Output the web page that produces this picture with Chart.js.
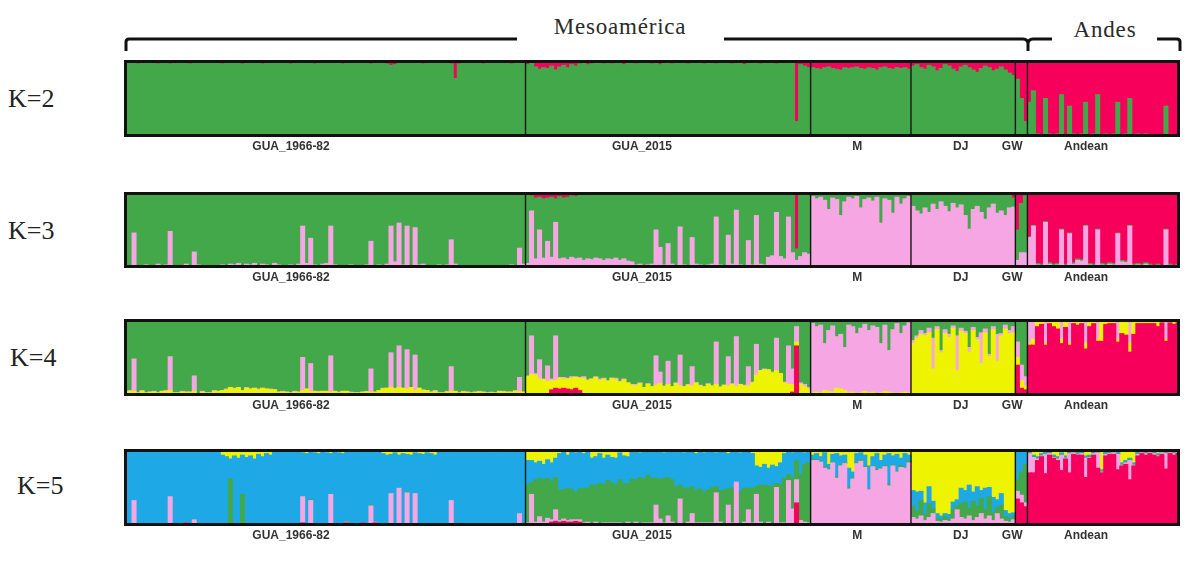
<!DOCTYPE html>
<html><head><meta charset="utf-8">
<script src="https://cdn.jsdelivr.net/npm/chart.js@4/dist/chart.umd.min.js"></script>
<style>
html,body{margin:0;padding:0;background:#fff}
body{width:1202px;height:567px;position:relative;overflow:hidden}
.panel{position:absolute;left:121px;width:1062px}
.k{position:absolute;font-family:'Liberation Serif',serif;font-size:26px;line-height:30px;color:#222}
.grp{position:absolute;font-family:'Liberation Serif',serif;font-size:23px;line-height:23px;color:#2a2a2a;letter-spacing:0.8px;text-align:center;white-space:nowrap}
svg{position:absolute;left:0;top:0}
</style></head><body>
<svg width="1202" height="70">
<g fill="none" stroke="#111" stroke-width="3">
<path d="M126,51 L126,42 Q126,39 129,39 L517,39"/>
<path d="M724,39 L1023,39 Q1028,39 1028,44 L1028,51 M1028,44 Q1028,39 1033,39 L1052,39"/>
<path d="M1157,39 L1177,39 Q1180,39 1180,42 L1180,51"/>
</g></svg>
<div class="grp" style="left:520px;width:200px;top:15px">Mesoamérica</div>
<div class="grp" style="left:1055px;width:100px;top:18px">Andes</div>
<div class="k" style="left:8px;top:84px">K=2</div>
<div class="k" style="left:8px;top:216px">K=3</div>
<div class="k" style="left:10px;top:343px">K=4</div>
<div class="k" style="left:17px;top:471px">K=5</div>
<div class="panel" style="top:57px;height:102px"><canvas id="c2"></canvas></div>
<div class="panel" style="top:189px;height:101px"><canvas id="c3"></canvas></div>
<div class="panel" style="top:316px;height:102px"><canvas id="c4"></canvas></div>
<div class="panel" style="top:446px;height:102px"><canvas id="c5"></canvas></div>
<script>
// ---- populations (individual counts) ----
const popNames = ['GUA_1966-82','GUA_2015','M','DJ','GW','Andean'];
const popSizes = [100,71,25,26,3,38];

// ---- K=2 : red (Andean cluster); green = rest ----
const k2Red = [
4,3,4,5,4,3,4,4,5,4, 4,5,4,3,4,4,5,4,3,4, 4,3,4,4,5,4,4,3,4,5, 4,4,3,4,5,4,4,4,3,4, 4,5,4,4,3,4,4,5,4,4,
3,4,4,4,5,4,3,4,4,4, 4,5,4,4,3,5,7,6,4,4, 4,4,3,4,5,4,4,4,3,4, 4,5,24,5,4,4,3,4,4,5, 4,4,3,4,4,4,5,4,3,4,
6,4,9,12,10,11,8,13,9,7, 10,6,8,5,4,6,5,4,3,5, 4,5,3,4,6,4,3,5,4,3, 4,5,4,6,3,4,5,4,3,4, 5,3,4,4,5,3,4,5,3,4, 4,5,3,4,6,4,3,4,5,3, 4,3,5,4,3,4,3,80,6,8, 10,
10,11,12,10,9,11,12,13,10,11,10,9,11,12,10,11,13,10,9,11,12,10,11,10,12,
8,6,10,12,7,9,14,11,6,8,12,15,9,7,10,13,16,11,8,10,14,12,9,13,17,20,
25,50,80,
55,40,96,97,50,96,97,96,45,97, 60,96,97,96,55,97,96,45,97,96, 97,96,55,97,96,50,97,96,97,96, 98,97,98,99,60,98,99,98
];

// ---- K=3 : pink (bottom), red (top); green = rest ----
const k3Pink = [
3,2,46,3,2,4,2,3,5,3, 4,48,3,2,3,5,3,21,4,2, 3,2,3,2,4,3,5,4,6,3, 5,4,6,3,5,4,3,6,4,3, 3,4,3,5,55,6,39,4,3,5,
6,55,4,3,2,3,4,2,3,3, 4,35,3,4,3,5,55,8,59,4, 55,3,53,4,5,3,2,3,4,3, 4,37,5,3,2,3,2,3,2,3, 2,3,2,3,2,3,4,3,26,5,
6,75,12,50,13,35,14,60,12,13, 11,14,12,13,10,12,11,13,12,10, 12,11,13,10,12,9,8,4,5,3, 4,5,50,27,4,32,5,3,54,4, 3,40,5,4,3,4,5,67,4,3, 43,5,76,4,3,36,4,69,5,4, 14,16,73,15,12,67,20,10,15,20, 18,
94,91,93,89,77,92,90,69,87,93,91,94,79,90,92,88,93,59,91,89,72,93,84,91,94,
81,75,71,79,73,84,77,87,81,74,85,79,83,69,51,77,81,73,64,79,84,72,75,69,79,80,
10,20,20,
40,55,4,3,60,5,3,4,50,3, 45,5,10,9,55,4,3,50,4,3, 5,4,45,8,7,55,3,4,3,5, 3,2,3,2,50,3,2,3
];
const k3Red = [
1,0,1,1,0,1,1,0,1,1, 1,1,0,1,1,0,1,1,1,0, 1,1,0,1,1,1,4,3,1,1, 0,1,1,1,0,1,1,1,0,1, 1,1,0,1,1,4,1,1,0,1,
1,0,1,1,1,0,1,1,1,0, 1,1,1,0,1,1,2,3,3,1, 1,0,1,1,1,0,1,1,1,1, 0,1,3,1,1,0,1,1,1,0, 1,1,1,0,1,1,1,0,1,1,
3,5,8,7,9,8,7,9,6,8, 7,5,6,3,4,2,3,2,3,2, 2,3,2,3,2,2,3,2,2,3, 2,3,2,2,3,2,2,3,2,2, 3,2,2,3,2,2,3,2,2,3, 2,3,2,2,3,2,2,3,2,2, 3,2,2,3,2,2,3,75,3,2, 2,
1,1,1,1,1,1,1,1,1,1,1,1,1,1,1,1,1,1,1,1,1,1,1,1,1,
1,1,1,1,1,1,1,1,1,1,1,1,1,1,1,1,1,1,1,1,1,1,1,1,3,8,
50,15,5,
59,44,94,95,39,93,95,94,49,95, 54,93,88,89,44,94,95,49,94,95, 93,94,54,90,91,44,95,94,95,93, 95,97,95,97,49,95,97,95
];

// ---- K=4 : red (bottom), yellow, pink; green = rest (top) ----
const k4Red = [
2,1,2,2,3,2,1,2,2,3, 2,2,1,2,2,3,2,2,1,2, 2,1,2,3,2,2,3,2,2,1, 2,2,1,2,2,2,3,2,1,2, 2,2,1,2,2,3,2,1,2,2,
1,2,2,2,3,2,2,1,2,2, 2,1,2,2,3,2,2,2,1,2, 2,2,1,2,2,3,2,2,1,2, 2,2,3,2,1,2,2,2,1,2, 2,1,2,2,2,3,2,2,1,2,
3,2,3,2,3,3,8,10,9,10, 9,8,10,7,3,2,3,2,3,2, 3,2,3,3,2,3,2,3,3,2, 3,2,3,2,3,3,2,3,2,3, 2,3,3,2,3,2,3,3,2,3, 3,2,3,3,2,3,2,3,3,2, 3,2,3,3,2,3,5,65,3,2, 3,
1,1,1,1,1,1,1,1,1,1,1,1,1,1,1,1,1,1,1,1,1,1,1,1,1,
2,2,2,2,2,2,2,2,2,2,2,2,2,2,2,2,2,2,2,2,2,2,2,2,2,2,
40,10,8,
66,66,90,93,66,94,90,87,68,89, 66,94,92,94,61,90,94,71,71,93, 94,94,70,81,79,57,80,94,94,94, 94,94,90,95,71,95,93,95
];
const k4Yellow = [
3,5,4,2,3,2,4,3,2,3, 4,5,3,2,3,2,3,4,2,3, 2,3,4,3,5,6,8,7,9,6, 8,7,9,6,8,7,5,6,4,3, 3,2,4,3,5,6,4,5,3,4,
5,3,4,2,3,4,2,3,2,3, 3,4,3,5,6,8,9,7,10,8, 7,9,6,8,5,4,3,4,3,2, 3,4,3,2,4,3,2,3,4,3, 2,3,2,4,3,2,3,4,5,3,
22,26,24,20,18,16,12,10,14,12, 13,15,14,16,20,18,19,22,17,20, 16,21,18,15,19,14,12,10,13,9, 12,10,11,14,9,12,10,13,11,9, 12,10,14,11,9,13,10,12,9,11, 10,13,9,12,11,10,15,24,30,32, 31,28,30,26,15,12,10,5,12,10, 6,
3,4,3,6,5,4,9,8,6,3,4,2,3,5,3,4,2,3,5,4,3,2,3,4,3,
66,73,78,76,80,33,84,54,79,74,86,31,82,79,55,83,71,40,80,49,84,43,76,85,79,80,
10,10,5,
3,8,6,4,3,2,7,9,6,8, 3,2,3,2,8,7,2,3,25,4, 2,3,4,15,18,12,16,3,2,3, 2,3,6,2,3,2,3,2
];
const k4Pink = [
0,1,42,0,1,0,0,1,0,0, 1,44,0,0,1,0,0,20,0,1, 0,0,1,0,0,1,0,1,0,0, 1,0,0,1,0,0,1,0,0,1, 0,0,1,0,43,0,36,0,1,0,
0,47,0,1,0,0,1,0,0,0, 1,30,0,0,1,0,45,1,54,0, 51,0,46,0,1,0,0,1,0,0, 1,32,0,0,1,0,0,0,1,0, 0,1,0,0,1,0,0,1,18,0,
1,50,2,25,1,20,2,58,1,2, 1,2,1,1,2,1,0,1,2,1, 1,0,2,1,1,0,1,2,1,0, 1,0,38,15,1,30,0,1,40,0, 1,25,0,1,0,1,0,55,1,0, 38,1,65,0,1,25,1,40,0,1, 0,1,42,0,1,50,20,20,2,3, 2,
90,85,88,61,79,86,67,71,56,88,85,78,84,87,81,86,86,64,86,54,82,91,77,86,91,
4,3,5,3,6,40,4,3,5,4,3,45,4,3,6,4,3,40,5,3,4,35,3,5,4,8,
20,20,12,
30,25,2,1,30,2,1,2,25,1, 30,2,3,2,30,1,2,25,2,1, 2,1,25,2,1,30,2,1,2,1, 2,1,2,1,25,1,2,1
];

// ---- K=5 : red (bottom), pink, green, yellow (top); blue = rest ----
const k5Red = [
1,0,1,0,1,1,0,1,0,1, 0,1,1,0,1,4,1,0,1,0, 1,0,1,1,0,1,0,1,1,0, 1,1,0,1,1,0,1,0,1,1, 0,1,1,0,4,1,1,0,1,0,
1,0,1,1,0,4,1,0,1,4, 1,0,4,1,0,1,1,0,1,1, 0,1,1,0,1,1,0,1,1,0, 1,1,0,1,1,0,1,1,0,1, 1,0,1,1,0,1,1,0,2,1,
1,1,2,2,2,2,5,6,5,6, 5,5,6,5,2,2,1,2,1,2, 1,2,1,2,1,2,1,2,1,1, 2,1,2,1,2,1,2,1,2,1, 2,1,2,1,2,1,2,1,2,1, 2,1,2,1,2,1,2,1,2,1, 2,1,2,1,2,1,2,30,2,1, 1,
1,1,1,1,1,1,1,1,1,1,1,1,1,1,1,1,1,1,1,1,1,1,1,1,1,
1,1,1,1,1,1,1,1,1,1,1,1,1,1,1,1,1,1,1,1,1,1,1,1,1,2,
35,30,25,
69,69,85,90,68,92,88,85,72,87, 69,93,92,92,63,88,92,75,69,91, 93,93,73,78,80,60,78,91,94,92, 94,92,90,93,74,94,92,94
];
const k5Pink = [
1,0,32,1,0,1,0,0,1,0, 0,37,1,0,1,0,0,8,0,1, 0,1,0,0,1,0,1,0,0,1, 0,1,0,1,0,0,1,0,1,0, 1,0,0,1,34,0,32,1,0,1,
0,41,0,1,0,1,0,0,1,0, 0,26,1,0,0,1,41,1,48,0, 43,0,41,0,1,0,0,1,0,0, 1,32,0,0,1,0,1,0,0,1, 0,1,0,0,1,0,1,0,14,1,
3,40,3,10,3,8,3,15,2,3, 2,3,2,3,2,3,2,3,2,2, 3,2,3,2,2,3,2,3,2,3, 2,3,25,8,2,12,3,2,33,2, 3,15,2,3,2,3,2,42,3,2, 25,3,55,2,3,20,2,40,3,2, 3,2,48,3,2,58,20,30,5,4, 3,
84,84,82,74,72,81,61,77,80,47,60,80,83,75,46,76,71,73,76,51,77,69,75,74,81,
10,8,12,6,10,15,5,4,6,5,8,20,10,8,12,6,10,15,8,12,6,15,8,5,4,6,
10,10,5,
25,20,2,1,25,2,1,2,20,1, 25,2,1,2,25,1,2,20,1,2, 1,2,20,1,2,25,1,2,1,2, 1,2,1,2,20,1,2,1
];
const k5Green = [
0,1,0,0,1,0,0,1,0,0, 1,0,0,1,0,0,1,0,0,1, 0,0,1,0,0,1,60,0,1,40, 0,1,0,0,1,0,0,1,0,0, 1,0,0,1,0,0,1,0,0,1,
0,0,1,0,0,1,0,0,1,0, 0,1,0,0,1,0,0,1,0,0, 1,0,0,1,0,0,1,0,0,1, 0,0,3,0,1,0,0,1,0,0, 1,0,0,1,0,0,1,0,0,1,
50,15,55,50,55,52,50,42,40,38, 42,40,36,40,45,44,50,48,52,50, 55,52,50,56,52,50,58,55,60,57, 62,58,35,52,58,50,55,48,18,46, 44,35,42,44,40,43,46,8,41,44, 22,45,0,42,44,28,45,10,48,50, 47,49,5,50,58,8,40,25,60,75, 78,
2,1,1,2,1,1,2,1,1,2,1,1,2,1,1,1,2,1,1,2,1,1,2,1,2,
15,10,20,8,18,6,4,3,5,3,12,5,18,22,10,25,15,20,12,25,10,8,18,6,5,4,
15,30,50,
1,1,1,1,1,1,1,1,1,1, 1,1,1,1,1,1,1,1,1,1, 1,1,1,1,1,1,1,1,1,1, 1,1,1,1,1,1,1,1
];
const k5Yellow = [
3,2,4,3,2,1,3,2,4,2, 3,2,1,3,2,4,2,3,1,2, 2,3,4,3,8,10,13,9,12,8, 11,9,13,7,10,6,8,4,3,2, 2,3,2,4,5,6,4,5,6,4,
5,6,4,5,6,4,3,2,3,2, 3,2,3,4,6,8,7,5,8,6, 7,8,5,6,7,5,6,8,3,2, 3,2,4,2,3,2,3,4,2,3, 2,3,2,1,3,2,2,3,2,4,
15,15,18,16,20,14,18,12,6,4, 8,3,5,4,6,3,12,10,6,12, 8,11,12,5,9,10,4,3,5,2, 4,3,4,3,5,3,2,4,3,5, 3,4,6,3,5,4,3,5,4,3, 6,4,3,5,4,3,6,22,24,20, 25,21,23,18,6,4,5,3,3,5, 4,
8,6,10,5,20,7,6,9,8,25,30,6,5,8,22,10,6,15,8,6,9,7,12,6,8,
54,56,55,70,49,68,84,87,84,85,69,66,51,54,47,56,49,54,51,50,63,66,58,80,84,83,
0,0,0,
3,8,10,6,4,3,8,10,5,9, 3,2,4,3,9,8,3,2,27,4, 3,2,4,18,15,12,18,4,2,3, 2,3,6,2,3,2,3,2
];

// ---- colours of the clusters ----
const C = {green:'#43a84a', red:'#f7005b', pink:'#f6a7e3', yellow:'#eef400', blue:'#1ea9e6'};

// label anchor positions (in individual units) for population names
const labelPos = [41.1, 128.5, 182.1, 207.9, 220.7, 239.1];

const individuals = popNames.flatMap((n,i)=>Array.from({length:popSizes[i]},(_,j)=>n+' #'+(j+1)));
const rest = (...arrs) => arrs[0].map((_,i)=>Math.max(0,100-arrs.reduce((s,a)=>s+a[i],0)));

const framePlugin = {
  id:'frame',
  afterDatasetsDraw(chart){
    const {ctx, chartArea:a, scales:{x}} = chart;
    ctx.save();
    ctx.strokeStyle='#151515'; ctx.lineWidth=1.4;
    let s=0;
    for(let i=0;i<popSizes.length-1;i++){
      s+=popSizes[i];
      const px=(x.getPixelForValue(s-1)+x.getPixelForValue(s))/2;
      ctx.beginPath(); ctx.moveTo(px,a.top); ctx.lineTo(px,a.bottom); ctx.stroke();
    }
    ctx.lineWidth=3; ctx.strokeStyle='#111';
    ctx.strokeRect(a.left+1.5,a.top+1.5,a.right-a.left-3,a.bottom-a.top-3);
    ctx.font='bold 12px "Liberation Sans", Arial, sans-serif';
    ctx.fillStyle='#333'; ctx.textAlign='center'; ctx.textBaseline='middle';
    popNames.forEach((n,i)=>ctx.fillText(n, x.getPixelForValue(labelPos[i]), a.bottom+10));
    ctx.restore();
  }
};

function makeChart(id, series){
  new Chart(document.getElementById(id), {
    type:'bar',
    data:{labels:individuals, datasets:series.map(([d,c])=>({data:d, backgroundColor:c, borderWidth:0,
      barPercentage:1, categoryPercentage:1, inflateAmount:0.5}))},
    options:{responsive:true, maintainAspectRatio:false, animation:false, devicePixelRatio:1, events:[],
      layout:{padding:{left:3,right:3,top:3,bottom:22}},
      plugins:{legend:{display:false}, tooltip:{enabled:false}},
      scales:{x:{stacked:true, display:false}, y:{stacked:true, display:false, min:0, max:100}}},
    plugins:[framePlugin]
  });
}

makeChart('c2', [[rest(k2Red),C.green],[k2Red,C.red]]);
makeChart('c3', [[k3Pink,C.pink],[rest(k3Pink,k3Red),C.green],[k3Red,C.red]]);
makeChart('c4', [[k4Red,C.red],[k4Yellow,C.yellow],[k4Pink,C.pink],[rest(k4Red,k4Yellow,k4Pink),C.green]]);
makeChart('c5', [[k5Red,C.red],[k5Pink,C.pink],[k5Green,C.green],[rest(k5Red,k5Pink,k5Green,k5Yellow),C.blue],[k5Yellow,C.yellow]]);
</script>
</body></html>
